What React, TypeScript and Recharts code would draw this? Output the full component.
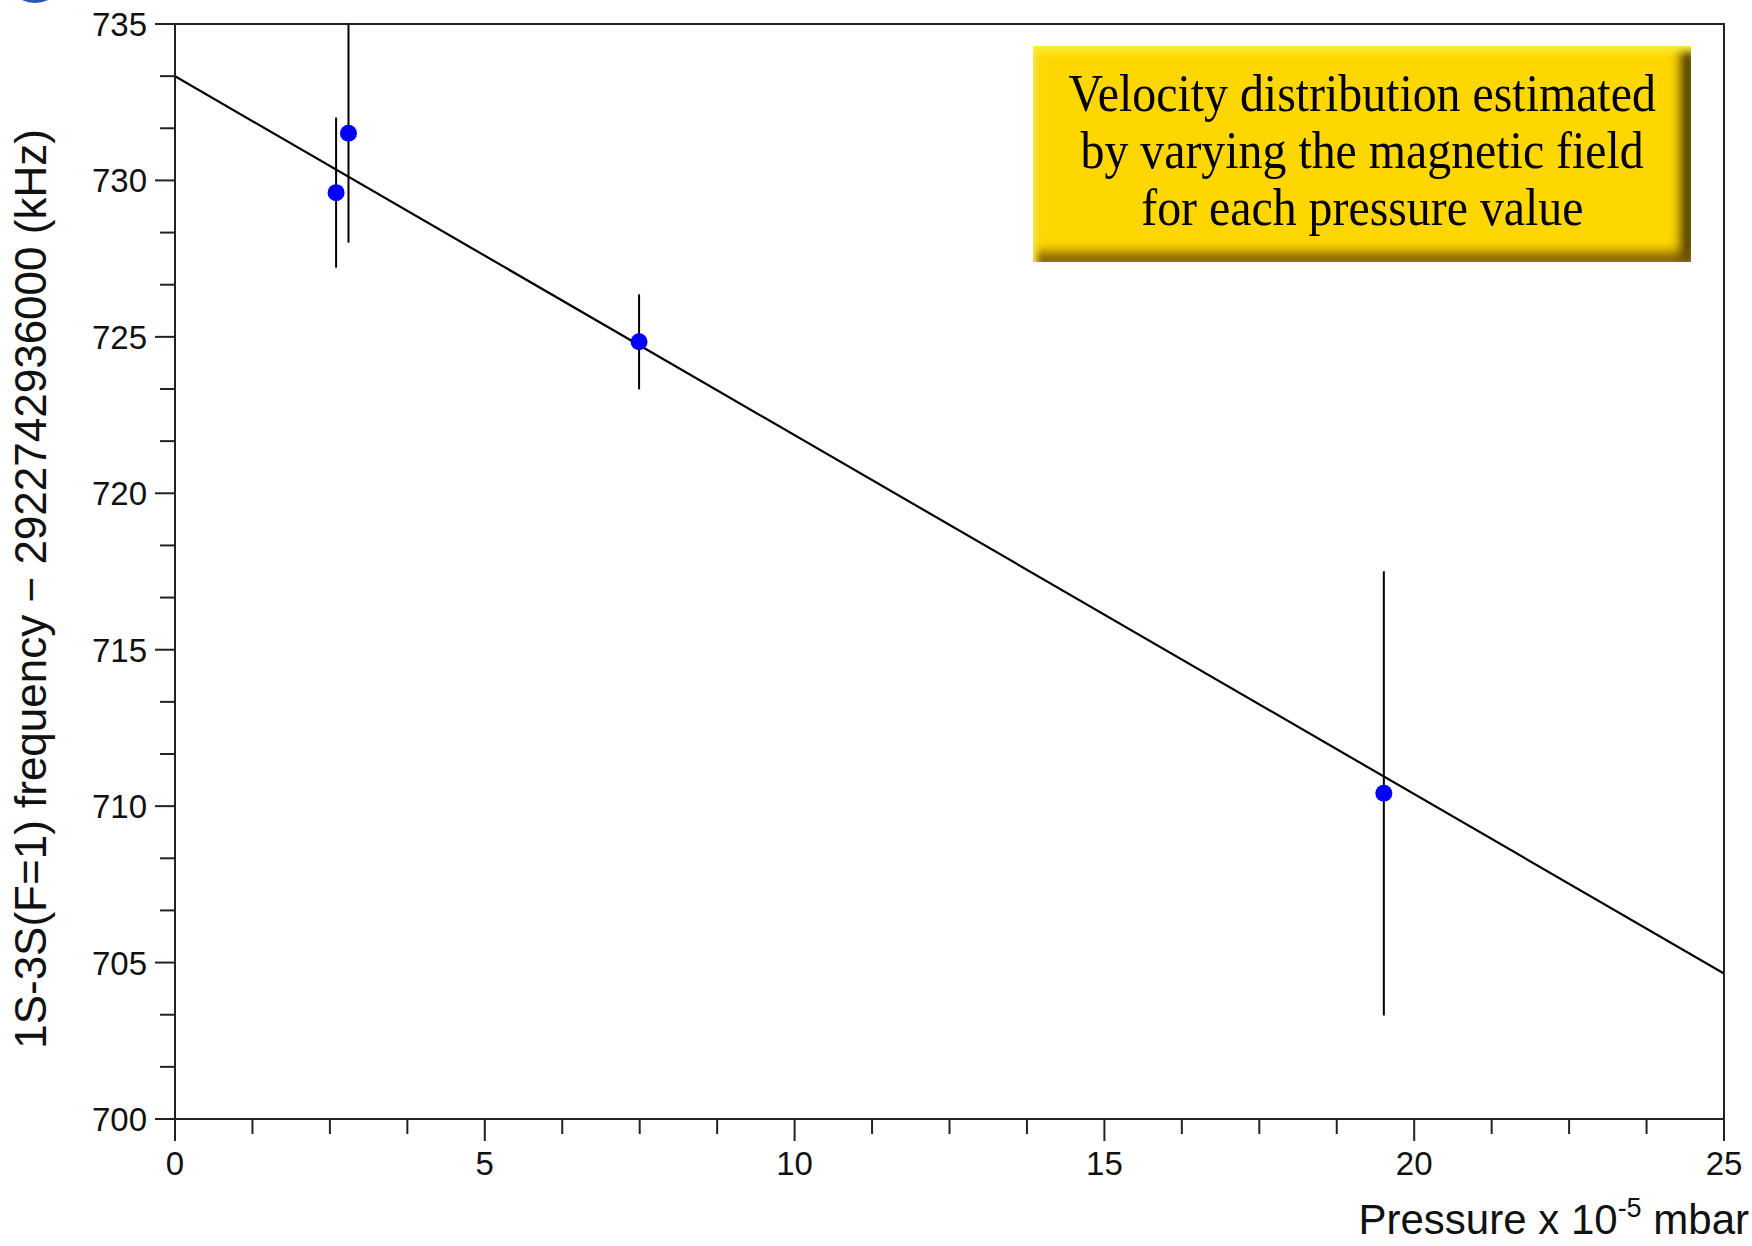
import React from "react";
import { ComposedChart, XAxis, YAxis, Scatter, Line, ErrorBar, ReferenceArea } from "recharts";

// measured points (pressure in 1e-5 mbar, frequency offset in kHz)
const pressure = [2.6, 2.8, 7.49, 19.51];
const freq = [729.61, 731.51, 724.84, 710.41];
const freqErr = [2.4, 3.5, 1.52, 7.1];

// linear fit end points
const fitPressure = [0, 25];
const fitFreq = [733.33, 704.65];

const xTicks = [
  0, 1.25, 2.5, 3.75, 5, 6.25, 7.5, 8.75, 10, 11.25, 12.5, 13.75, 15, 16.25, 17.5, 18.75, 20,
  21.25, 22.5, 23.75, 25,
];
const xLabelTicks = [0, 5, 10, 15, 20, 25];
const yTicks = [
  700, 701.667, 703.333, 705, 706.667, 708.333, 710, 711.667, 713.333, 715, 716.667,
  718.333, 720, 721.667, 723.333, 725, 726.667, 728.333, 730, 731.667, 733.333, 735,
];
const yLabelTicks = [700, 705, 710, 715, 720, 725, 730, 735];

const points = pressure.map((x, i) => ({ x, y: freq[i], err: freqErr[i] }));
const fit = fitPressure.map((x, i) => ({ x, y: fitFreq[i] }));

const SANS = '"Liberation Sans", Arial, Helvetica, sans-serif';
const AXIS = "#222";

const XTick = (props: any) => {
  const { x, y, payload } = props;
  const major = xLabelTicks.includes(payload.value);
  return (
    <g>
      <line x1={x} x2={x} y1={y} y2={y + (major ? 22 : 15)} stroke={AXIS} strokeWidth={2} />
      {major && (
        <text x={x} y={y + 56} textAnchor="middle" fontSize={33} fontFamily={SANS} fill="#111">
          {payload.value}
        </text>
      )}
    </g>
  );
};

const YTick = (props: any) => {
  const { x, y, payload } = props;
  const major = yLabelTicks.some((v) => Math.abs(v - payload.value) < 0.01);
  return (
    <g>
      <line x1={x - (major ? 20 : 15)} x2={x} y1={y} y2={y} stroke={AXIS} strokeWidth={2} />
      {major && (
        <text x={x - 28} y={y + 12} textAnchor="end" fontSize={33} fontFamily={SANS} fill="#111">
          {Math.round(payload.value)}
        </text>
      )}
    </g>
  );
};

const Dot = (props: any) => <circle cx={props.cx} cy={props.cy} r={8.5} fill="#0000ff" />;

export default function App() {
  return (
    <div style={{ position: "absolute", left: 0, top: 0, width: 1752, height: 1246, background: "#fff", overflow: "hidden" }}>
      <ComposedChart width={1752} height={1246} margin={{ top: 24, right: 28, bottom: 0, left: 0 }}>
        <XAxis
          type="number"
          dataKey="x"
          domain={[0, 25]}
          allowDataOverflow
          ticks={xTicks}
          interval={0}
          tick={<XTick />}
          tickLine={false}
          tickSize={0}
          tickMargin={0}
          axisLine={{ stroke: AXIS, strokeWidth: 2 }}
          height={127}
        />
        <YAxis
          type="number"
          dataKey="y"
          domain={[700, 735]}
          allowDataOverflow
          ticks={yTicks}
          interval={0}
          tick={<YTick />}
          tickLine={false}
          tickSize={0}
          tickMargin={0}
          axisLine={{ stroke: AXIS, strokeWidth: 2 }}
          width={175}
        />
        <ReferenceArea x1={0} x2={25} y1={700} y2={735} fill="none" stroke={AXIS} strokeWidth={2} />
        <Line data={fit} dataKey="y" stroke="#000" strokeWidth={2.2} dot={false} activeDot={false} isAnimationActive={false} />
        <Scatter data={points} dataKey="y" fill="#0000ff" shape={<Dot />} isAnimationActive={false}>
          <ErrorBar dataKey="err" direction="y" width={0} stroke="#000" strokeWidth={2} isAnimationActive={false} />
        </Scatter>
      </ComposedChart>

      {/* cropped logo remnant in the corner */}
      <div style={{ position: "absolute", left: 18, top: -14, width: 34, height: 17, borderRadius: "50%", background: "#2a56b8" }} />

      <div
        style={{
          position: "absolute",
          left: 31,
          top: 589,
          transform: "translate(-50%, -50%) rotate(-90deg)",
          whiteSpace: "nowrap",
          fontFamily: SANS,
          fontSize: 44,
          color: "#111",
        }}
      >
        1S-3S(F=1) frequency − 2922742936000 (kHz)
      </div>

      <div
        style={{
          position: "absolute",
          right: 3,
          top: 1200,
          whiteSpace: "nowrap",
          fontFamily: SANS,
          fontSize: 42,
          lineHeight: "40px",
          color: "#111",
        }}
      >
        Pressure x 10<span style={{ position: "relative", top: -17, fontSize: 27 }}>-5</span> mbar
      </div>

      <div
        style={{
          position: "absolute",
          left: 1033,
          top: 46,
          width: 658,
          height: 216,
          boxSizing: "border-box",
          paddingBottom: 8,
          background: "#ffd700",
          boxShadow:
            "inset 0 10px 8px -4px #fff23a, inset 7px 0 7px -3px #ffe84a, inset 0 -14px 12px -4px rgba(110,80,0,0.85), inset -14px 0 12px -4px rgba(50,35,0,0.9)",
          display: "flex",
          flexDirection: "column",
          justifyContent: "center",
          alignItems: "center",
          fontFamily: '"Liberation Serif", "Times New Roman", serif',
          fontSize: 52,
          lineHeight: "57px",
          color: "#000",
          textAlign: "center",
        }}
      >
        <div style={{ transform: "scaleX(0.92)", whiteSpace: "nowrap" }}>Velocity distribution estimated</div>
        <div style={{ transform: "scaleX(0.92)", whiteSpace: "nowrap" }}>by varying the magnetic field</div>
        <div style={{ transform: "scaleX(0.92)", whiteSpace: "nowrap" }}>for each pressure value</div>
      </div>
    </div>
  );
}
